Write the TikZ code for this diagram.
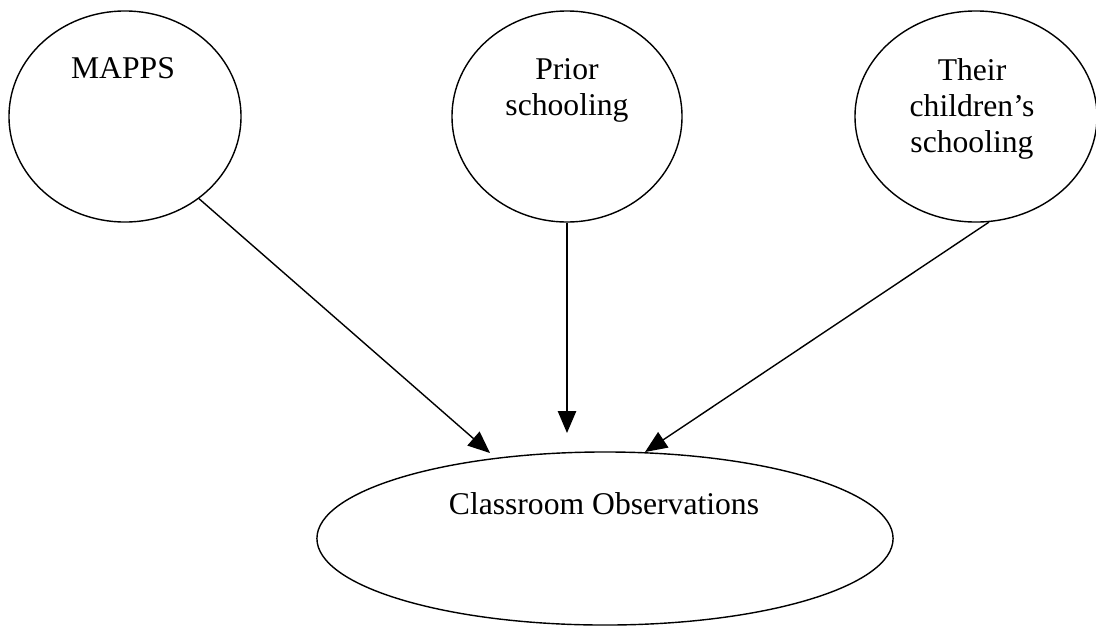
\documentclass[tikz,border=0pt]{standalone}
\usepackage{fontspec}
\setmainfont{Liberation Serif}
\usetikzlibrary{shapes.geometric,arrows.meta}
\begin{document}
\begin{tikzpicture}[x=0.025cm, y=-0.025cm,
		bubble/.style={ellipse, draw, line width=1pt, inner sep=0pt},
		bubble text/.style={font=\fontsize{22.5}{25.6}\selectfont, align=center, anchor=base, inner sep=0pt},
		link/.style={line width=1pt, -{Triangle[length=0.55cm, width=0.46cm]}}]
		\useasboundingbox (0,0) rectangle (1096,626);
		\node[bubble, minimum width=5.8cm, minimum height=5.275cm] (mapps) at (125,116.5) {};
		\node[bubble, minimum width=5.75cm, minimum height=5.275cm] (prior) at (567,116.5) {};
		\node[bubble, minimum width=6.05cm, minimum height=5.275cm] (their) at (976,116.5) {};
		\node[bubble, minimum width=14.4cm, minimum height=4.325cm] (obs) at (605,538.5) {};
		% base anchor sits on the last line
		\node[bubble text] (mapps text) at (123,78) {MAPPS};
		\node[bubble text] (prior text) at (567,115) {Prior\\schooling};
		\node[bubble text] (their text) at (972,152) {Their\\children’s\\schooling};
		\node[bubble text] (obs text) at (604,514) {Classroom Observations};
		\coordinate (tip1) at (490,453);
		\coordinate (tip2) at (567,433);
		\coordinate (tip3) at (645,452);
		\foreach \src/\dst in {mapps.-48/tip1, prior.south/tip2, their.-83/tip3}{
		  \draw[link] (\src) -- (\dst);
		}
	\end{tikzpicture}
\end{document}
